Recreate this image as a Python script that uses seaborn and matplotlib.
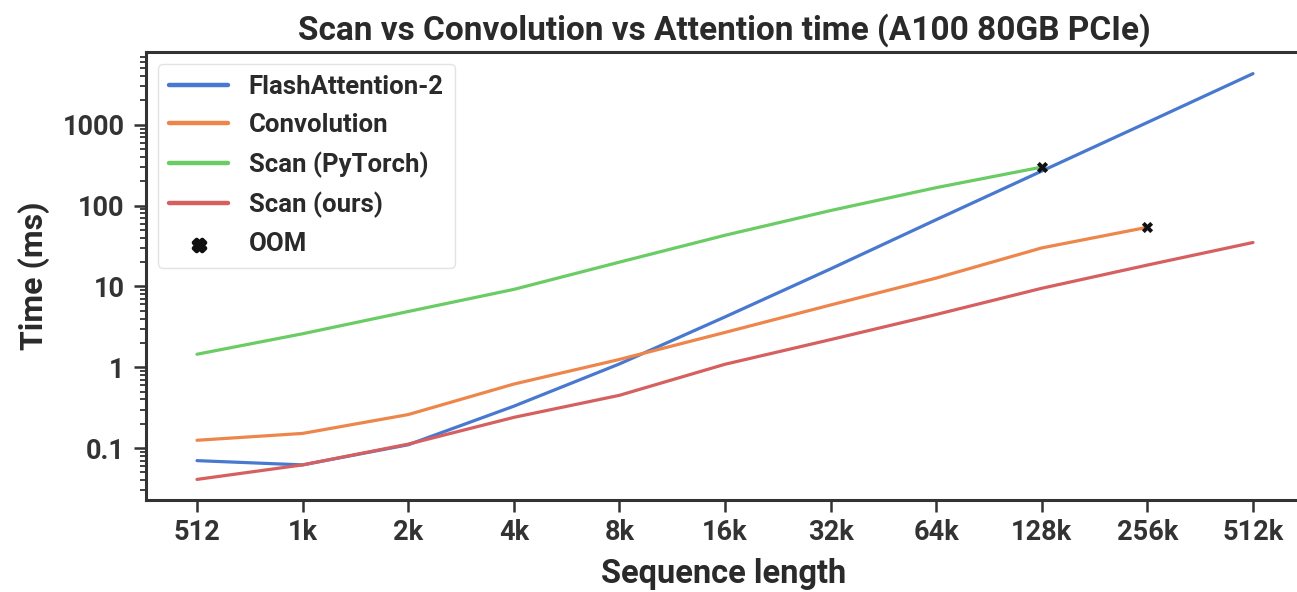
import numpy as np
import pandas as pd
import matplotlib
matplotlib.use('Agg')
import matplotlib.pyplot as plt
import seaborn as sns

# datos
seq_len = [512, 1024, 2048, 4096, 8192, 16384, 32768, 65536, 131072, 262144, 524288]
etiquetas_x = ['512', '1k', '2k', '4k', '8k', '16k', '32k', '64k', '128k', '256k', '512k']

flash_attn = [0.070, 0.062, 0.11, 0.33, 1.1, 4.2, 16.5, 67, 268, 1070, 4300]
convolucion = [0.125, 0.152, 0.26, 0.62, 1.25, 2.7, 5.9, 12.7, 30, 54, np.nan]
scan_torch = [1.45, 2.6, 4.9, 9.2, 20, 43, 87, 167, 300, np.nan, np.nan]
scan_ours = [0.041, 0.062, 0.112, 0.24, 0.45, 1.09, 2.2, 4.5, 9.5, 18.4, 35]

oom_x = [131072, 262144]
oom_y = [300, 54]

metodos = ['FlashAttention-2', 'Convolution', 'Scan (PyTorch)', 'Scan (ours)']
series = [flash_attn, convolucion, scan_torch, scan_ours]

df = pd.DataFrame({
    'seq_len': seq_len * 4,
    'time': sum(series, []),
    'method': sum([[m] * len(seq_len) for m in metodos], []),
})

sns.set_theme(style="ticks", palette="muted")
plt.rcParams['font.family'] = ['Roboto', 'DejaVu Sans']
plt.rcParams['font.weight'] = 'bold'
plt.rcParams['axes.edgecolor'] = '#333333'
plt.rcParams['xtick.color'] = '#333333'
plt.rcParams['ytick.color'] = '#333333'
plt.rcParams['text.color'] = '#2a2a2a'
plt.rcParams['axes.labelcolor'] = '#2a2a2a'

fig = plt.figure(figsize=(12.97, 5.92), dpi=100)
ax = fig.add_axes([146 / 1297, 92 / 592, (1302 - 146) / 1297, 448 / 592])

sns.lineplot(data=df, x='seq_len', y='time', hue='method', hue_order=metodos,
             linewidth=2.3, ax=ax, legend=True)
ax.scatter(oom_x, oom_y, marker='X', color='#111111', s=65, zorder=5, label='OOM', linewidths=0)

ax.set_xscale('log', base=2)
ax.set_yscale('log')
ax.set_xlim(2 ** (9 - 51 / 105.6), 2 ** (19 + 49 / 105.6))
ax.set_ylim(10 ** -1.642, 10 ** 3.901)
ax.set_xticks(seq_len)
ax.set_xticklabels(etiquetas_x)
ax.xaxis.set_minor_locator(matplotlib.ticker.NullLocator())
ax.set_yticks([0.1, 1, 10, 100, 1000])
ax.set_yticklabels(['0.1', '1', '10', '100', '1000'])

for s in ax.spines.values():
    s.set_linewidth(2.2)
ax.tick_params(axis='both', which='major', labelsize=19.5, length=8.5, width=1.8)
ax.tick_params(axis='x', which='major', pad=5)
ax.tick_params(axis='y', which='major', pad=7)
ax.tick_params(axis='y', which='minor', length=4, width=1.3)
for lbl in ax.get_xticklabels() + ax.get_yticklabels():
    lbl.set_fontweight('bold')

ax.set_title('Scan vs Convolution vs Attention time (A100 80GB PCIe)', fontsize=24, fontweight='bold', pad=9)
ax.set_xlabel('Sequence length', fontsize=23.5, fontweight='bold', labelpad=9)
ax.set_ylabel('Time (ms)', fontsize=23, fontweight='bold', labelpad=9)

handles, labels = ax.get_legend_handles_labels()
leg = ax.legend(handles, labels, loc='upper left', handlelength=2.3,
                frameon=True, borderpad=0.45, labelspacing=0.55, handletextpad=0.8,
                borderaxespad=0.45, prop={'weight': 'bold', 'size': 18.5})
leg.get_frame().set_edgecolor('#dddddd')
for h in leg.legend_handles:
    if hasattr(h, 'set_linewidth'):
        h.set_linewidth(3.2)

fig.savefig('out.png', dpi=100)
plt.close()
